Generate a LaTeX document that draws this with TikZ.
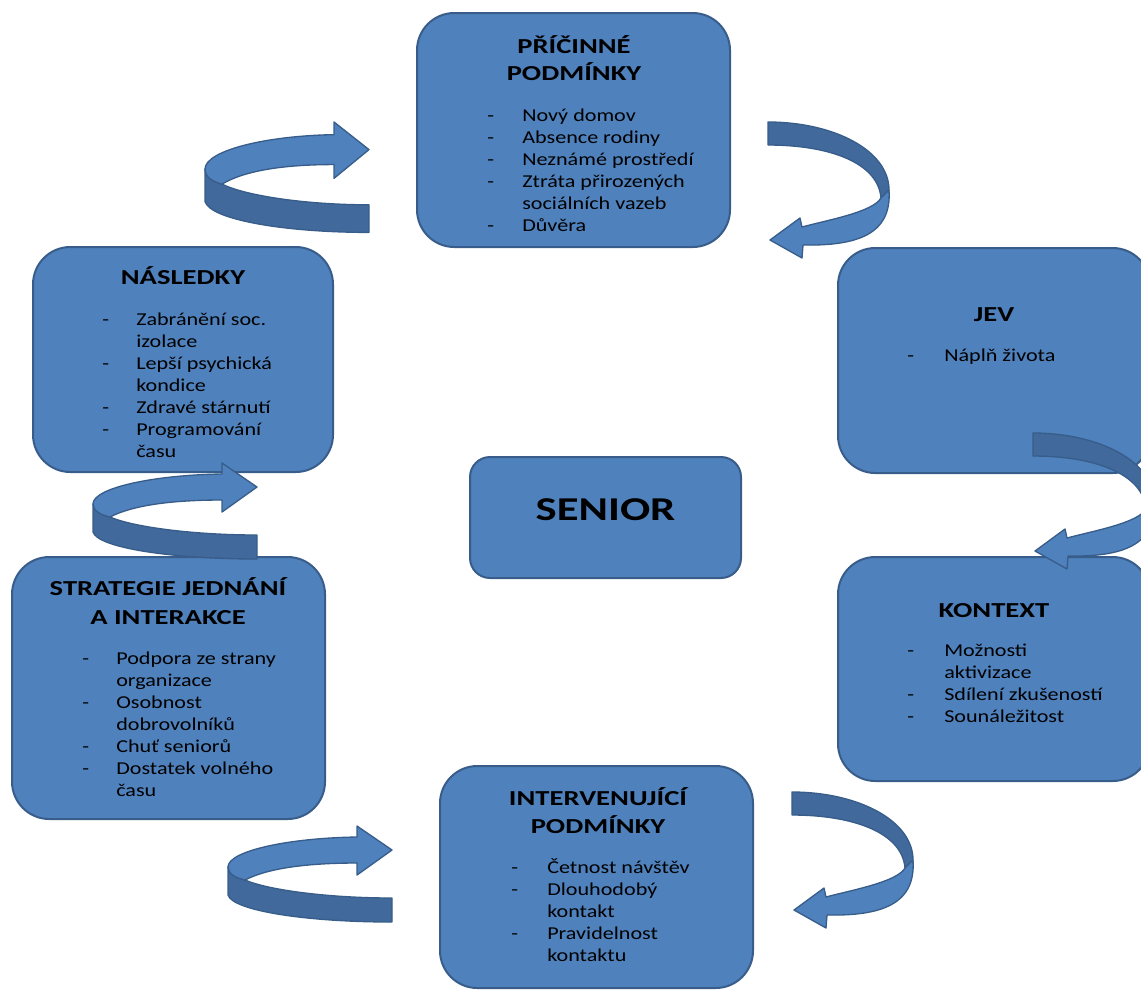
\documentclass[tikz,border=0pt]{standalone}
\usepackage{fontspec}
\setmainfont{Carlito}[FakeStretch=1.22]
\newfontfamily\headfont{Carlito}[FakeStretch=1.34]
\usetikzlibrary{fit}
\definecolor{boxfill}{HTML}{4F81BD}
\definecolor{boxline}{HTML}{385D8A}
\definecolor{bandback}{HTML}{41699B}
\tikzstyle{panel}=[
        draw=boxline,
        line width=1.5pt,
        fill=boxfill,
        inner sep=0pt,
        rounded corners=28pt
]
\tikzstyle{band}=[draw=boxline, line width=1pt, line join=round]
\tikzstyle{heading}=[font=\headfont\fontsize{16}{21}\selectfont\bfseries, anchor=base, inner sep=0pt]
\tikzstyle{entry}=[font=\fontsize{13.6}{16.5}\selectfont, anchor=base west, inner sep=0pt]
% turning arrow, light band on top, head to the right
\newcommand{\turnright}{%
  \draw[band, fill=bandback] (0,41) -- (0,69) .. controls (5,85) and (80,96) .. (164,96) -- (164,72) .. controls (100,72) and (40,64) .. (17,54) .. controls (8,52) and (0,48) .. cycle;
  \draw[band, fill=boxfill] (129,11) .. controls (60,12) and (0,25) .. (0,41) .. controls (0,48) and (8,52) .. (17,54) .. controls (40,42) and (80,37) .. (129,37) -- (129,49) -- (164,24) -- (129,0) -- cycle;
}
% turning arrow, dark band on top, head to the left
\newcommand{\turnleft}{%
  \draw[band, fill=bandback] (0,0) .. controls (65,0) and (121,28) .. (121,68) -- (113,76) .. controls (110,40) and (60,23) .. (0,23) -- cycle;
  \draw[band, fill=boxfill] (121,68) .. controls (124,112) and (90,124) .. (35,123) -- (34,136) -- (2,118) -- (32,96) -- (34,105) .. controls (60,98) and (105,90) .. (113,76) -- cycle;
}
\begin{document}
\begin{tikzpicture}[x=0.75pt, y=-0.75pt]
                    \useasboundingbox (0,0) rectangle (1141,990);
                    \clip (0,0) rectangle (1141,990);

                    % boxes
                    \node[panel, fit={(417,13) (730,247)}] (pricina) {};
                    \node[panel, fit={(33,247) (333,472)}] (nasledky) {};
                    \node[panel, fit={(838,248) (1150,473)}] (jev) {};
                    \node[panel, rounded corners=15pt, fit={(470,457) (741,578)}] (senior) {};
                    \node[panel, fit={(12,557) (325,819)}] (strategie) {};
                    \node[panel, fit={(838,557) (1150,781)}] (kontext) {};
                    \node[panel, fit={(440,766) (753,988)}] (interv) {};

                    % headings
                    \node[heading] (h1) at (574,53) {PŘÍČINNÉ};
                    \node[heading] (h2) at (574,80) {PODMÍNKY};
                    \node[heading] (h3) at (183,284) {NÁSLEDKY};
                    \node[heading] (h4) at (994,321) {JEV};
                    \node[heading, font=\headfont\fontsize{25}{32}\selectfont\bfseries] (h5) at (605.5,520) {SENIOR};
                    \node[heading] (h6) at (168,595) {STRATEGIE JEDNÁNÍ};
                    \node[heading] (h7) at (168,624) {A INTERAKCE};
                    \node[heading] (h8) at (994,617) {KONTEXT};
                    \node[heading] (h9) at (598,805) {INTERVENUJÍCÍ};
                    \node[heading] (h10) at (598,833) {PODMÍNKY};

                    % lists (1 = new item with dash, 0 = continued line)
                    \foreach \d/\t [count=\i from 0] in {1/Nový domov, 1/Absence rodiny, 1/Neznámé prostředí, 1/Ztráta přirozených, 0/sociálních vazeb, 1/Důvěra} {
                        \node[entry] (a\i) at (522,121+22*\i) {\t};
                        \ifnum\d=1 \node[entry] (ad\i) at (487,121+22*\i) {-};\fi
                    }
                    \foreach \d/\t [count=\i from 0] in {1/Zabránění soc., 0/izolace, 1/Lepší psychická, 0/kondice, 1/Zdravé stárnutí, 1/Programování, 0/času} {
                        \node[entry] (b\i) at (136,325+22*\i) {\t};
                        \ifnum\d=1 \node[entry] (bd\i) at (102,325+22*\i) {-};\fi
                    }
                    \node[entry] (c0) at (944,361) {Náplň života};
                    \node[entry] (cd0) at (907,361) {-};
                    \foreach \d/\t [count=\i from 0] in {1/Podpora ze strany, 0/organizace, 1/Osobnost, 0/dobrovolníků, 1/Chuť seniorů, 1/Dostatek volného, 0/času} {
                        \node[entry] (e\i) at (116,664+22*\i) {\t};
                        \ifnum\d=1 \node[entry] (ed\i) at (82,664+22*\i) {-};\fi
                    }
                    \foreach \d/\t [count=\i from 0] in {1/Možnosti, 0/aktivizace, 1/Sdílení zkušeností, 1/Sounáležitost} {
                        \node[entry] (f\i) at (944,656+22*\i) {\t};
                        \ifnum\d=1 \node[entry] (fd\i) at (907,656+22*\i) {-};\fi
                    }
                    \foreach \d/\t [count=\i from 0] in {1/Četnost návštěv, 1/Dlouhodobý, 0/kontakt, 1/Pravidelnost, 0/kontaktu} {
                        \node[entry] (g\i) at (547,873+22*\i) {\t};
                        \ifnum\d=1 \node[entry] (gd\i) at (511,873+22*\i) {-};\fi
                    }

                    % turning arrows
                    \begin{scope}[shift={(205,122)}, yscale=1.15] \turnright \end{scope}
                    \begin{scope}[shift={(93,463)}] \turnright \end{scope}
                    \begin{scope}[shift={(228,826)}] \turnright \end{scope}
                    \begin{scope}[shift={(768,122)}] \turnleft \end{scope}
                    \begin{scope}[shift={(1033,433)}] \turnleft \end{scope}
                    \begin{scope}[shift={(792,792)}] \turnleft \end{scope}
\end{tikzpicture}
\end{document}
